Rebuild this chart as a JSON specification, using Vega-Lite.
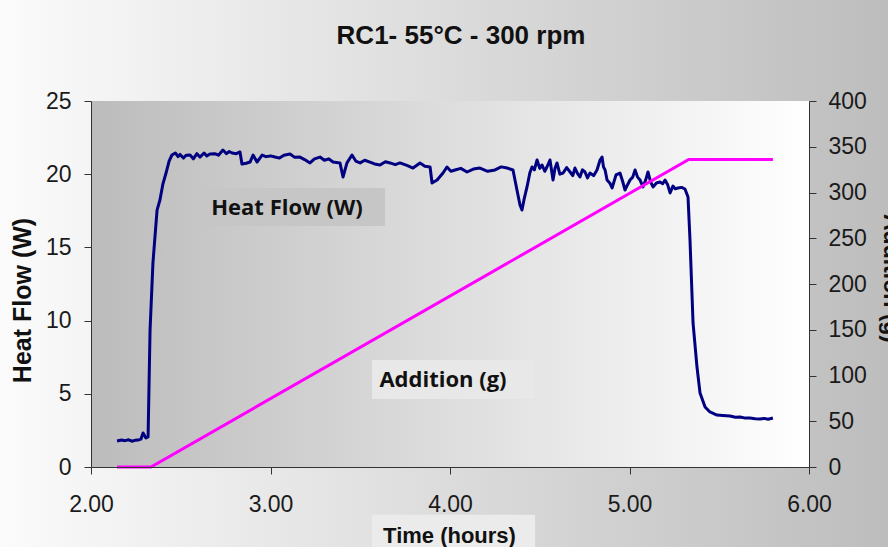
{
  "$schema": "https://vega.github.io/schema/vega-lite/v6.json",
  "width": 718,
  "height": 366,
  "autosize": {"type": "none"},
  "padding": {"left": 91, "top": 101, "right": 79, "bottom": 80},
  "background": "#dddddd",
  "title": {
    "text": "RC1- 55°C - 300 rpm",
    "font": "Liberation Sans",
    "fontSize": 26,
    "fontWeight": "bold",
    "color": "#111111",
    "anchor": "middle",
    "frame": "group",
    "baseline": "alphabetic",
    "dx": 11,
    "offset": -71
  },
  "datasets": {
    "heat": [
      {"t": 2.145, "hf": 1.78}, {"t": 2.170, "hf": 1.84}, {"t": 2.189, "hf": 1.80}, {"t": 2.210, "hf": 1.86},
      {"t": 2.228, "hf": 1.76}, {"t": 2.245, "hf": 1.82}, {"t": 2.262, "hf": 1.84}, {"t": 2.278, "hf": 1.90},
      {"t": 2.290, "hf": 2.32}, {"t": 2.306, "hf": 1.98}, {"t": 2.318, "hf": 2.05}, {"t": 2.329, "hf": 9.36},
      {"t": 2.345, "hf": 13.93}, {"t": 2.368, "hf": 17.55}, {"t": 2.384, "hf": 18.24}, {"t": 2.400, "hf": 19.3},
      {"t": 2.418, "hf": 20.08}, {"t": 2.435, "hf": 20.9}, {"t": 2.451, "hf": 21.31}, {"t": 2.470, "hf": 21.45},
      {"t": 2.485, "hf": 21.20}, {"t": 2.496, "hf": 21.35}, {"t": 2.515, "hf": 21.10}, {"t": 2.530, "hf": 21.30},
      {"t": 2.552, "hf": 21.31}, {"t": 2.570, "hf": 21.05}, {"t": 2.590, "hf": 21.40}, {"t": 2.607, "hf": 21.17},
      {"t": 2.630, "hf": 21.45}, {"t": 2.645, "hf": 21.25}, {"t": 2.663, "hf": 21.38}, {"t": 2.690, "hf": 21.40},
      {"t": 2.710, "hf": 21.30}, {"t": 2.735, "hf": 21.65}, {"t": 2.755, "hf": 21.40}, {"t": 2.770, "hf": 21.55},
      {"t": 2.786, "hf": 21.45}, {"t": 2.810, "hf": 21.40}, {"t": 2.830, "hf": 21.52}, {"t": 2.841, "hf": 20.70},
      {"t": 2.865, "hf": 20.75}, {"t": 2.886, "hf": 20.83}, {"t": 2.903, "hf": 21.31}, {"t": 2.925, "hf": 20.83},
      {"t": 2.953, "hf": 21.31}, {"t": 2.975, "hf": 21.20}, {"t": 3.000, "hf": 21.25}, {"t": 3.025, "hf": 21.17},
      {"t": 3.050, "hf": 21.10}, {"t": 3.075, "hf": 21.30}, {"t": 3.109, "hf": 21.38}, {"t": 3.135, "hf": 21.15},
      {"t": 3.164, "hf": 21.17}, {"t": 3.190, "hf": 21.00}, {"t": 3.220, "hf": 20.77}, {"t": 3.245, "hf": 21.05},
      {"t": 3.276, "hf": 21.17}, {"t": 3.300, "hf": 20.95}, {"t": 3.325, "hf": 21.05}, {"t": 3.348, "hf": 20.83},
      {"t": 3.387, "hf": 20.77}, {"t": 3.404, "hf": 19.81}, {"t": 3.426, "hf": 20.77}, {"t": 3.454, "hf": 21.31},
      {"t": 3.475, "hf": 20.90}, {"t": 3.499, "hf": 20.77}, {"t": 3.525, "hf": 20.95}, {"t": 3.554, "hf": 20.83},
      {"t": 3.580, "hf": 20.70}, {"t": 3.610, "hf": 20.63}, {"t": 3.640, "hf": 20.85}, {"t": 3.666, "hf": 20.77},
      {"t": 3.695, "hf": 20.65}, {"t": 3.721, "hf": 20.77}, {"t": 3.760, "hf": 20.60}, {"t": 3.794, "hf": 20.42},
      {"t": 3.833, "hf": 20.77}, {"t": 3.860, "hf": 20.55}, {"t": 3.889, "hf": 20.49}, {"t": 3.900, "hf": 19.40},
      {"t": 3.928, "hf": 19.60}, {"t": 3.961, "hf": 20.08}, {"t": 3.983, "hf": 20.49}, {"t": 4.005, "hf": 20.20},
      {"t": 4.028, "hf": 20.29}, {"t": 4.060, "hf": 20.40}, {"t": 4.095, "hf": 20.15}, {"t": 4.130, "hf": 20.35},
      {"t": 4.167, "hf": 20.42}, {"t": 4.210, "hf": 20.20}, {"t": 4.251, "hf": 20.29}, {"t": 4.285, "hf": 20.50},
      {"t": 4.318, "hf": 20.42}, {"t": 4.351, "hf": 20.29}, {"t": 4.373, "hf": 18.92}, {"t": 4.390, "hf": 17.90},
      {"t": 4.401, "hf": 17.55}, {"t": 4.412, "hf": 18.24}, {"t": 4.429, "hf": 19.13}, {"t": 4.445, "hf": 20.10},
      {"t": 4.457, "hf": 20.49}, {"t": 4.470, "hf": 20.30}, {"t": 4.485, "hf": 20.97}, {"t": 4.500, "hf": 20.40},
      {"t": 4.513, "hf": 20.63}, {"t": 4.528, "hf": 20.20}, {"t": 4.540, "hf": 20.49}, {"t": 4.557, "hf": 20.97},
      {"t": 4.574, "hf": 19.60}, {"t": 4.585, "hf": 20.40}, {"t": 4.596, "hf": 20.77}, {"t": 4.612, "hf": 20.00},
      {"t": 4.630, "hf": 20.08}, {"t": 4.650, "hf": 20.45}, {"t": 4.669, "hf": 20.15}, {"t": 4.684, "hf": 19.90},
      {"t": 4.696, "hf": 20.42}, {"t": 4.710, "hf": 20.05}, {"t": 4.724, "hf": 19.81}, {"t": 4.738, "hf": 20.30},
      {"t": 4.752, "hf": 20.15}, {"t": 4.766, "hf": 19.75}, {"t": 4.780, "hf": 20.08}, {"t": 4.800, "hf": 19.90},
      {"t": 4.819, "hf": 20.29}, {"t": 4.836, "hf": 20.97}, {"t": 4.847, "hf": 21.17}, {"t": 4.855, "hf": 20.50},
      {"t": 4.864, "hf": 20.29}, {"t": 4.875, "hf": 19.60}, {"t": 4.890, "hf": 19.40}, {"t": 4.903, "hf": 19.06},
      {"t": 4.925, "hf": 19.95}, {"t": 4.947, "hf": 20.08}, {"t": 4.962, "hf": 19.50}, {"t": 4.975, "hf": 18.92},
      {"t": 4.990, "hf": 19.30}, {"t": 5.003, "hf": 19.60}, {"t": 5.018, "hf": 19.80}, {"t": 5.031, "hf": 20.29},
      {"t": 5.045, "hf": 19.80}, {"t": 5.059, "hf": 19.60}, {"t": 5.075, "hf": 19.13}, {"t": 5.090, "hf": 19.60},
      {"t": 5.103, "hf": 20.15}, {"t": 5.117, "hf": 19.50}, {"t": 5.131, "hf": 19.13}, {"t": 5.150, "hf": 19.40},
      {"t": 5.170, "hf": 19.47}, {"t": 5.185, "hf": 19.35}, {"t": 5.198, "hf": 19.60}, {"t": 5.212, "hf": 19.30},
      {"t": 5.226, "hf": 18.72}, {"t": 5.242, "hf": 19.19}, {"t": 5.255, "hf": 19.00}, {"t": 5.270, "hf": 19.06},
      {"t": 5.290, "hf": 19.10}, {"t": 5.309, "hf": 18.99}, {"t": 5.326, "hf": 18.44}, {"t": 5.337, "hf": 15.51},
      {"t": 5.354, "hf": 9.84}, {"t": 5.376, "hf": 6.83}, {"t": 5.393, "hf": 5.05}, {"t": 5.421, "hf": 4.10},
      {"t": 5.448, "hf": 3.76}, {"t": 5.487, "hf": 3.55}, {"t": 5.520, "hf": 3.52}, {"t": 5.560, "hf": 3.48},
      {"t": 5.590, "hf": 3.40}, {"t": 5.616, "hf": 3.42}, {"t": 5.645, "hf": 3.34}, {"t": 5.671, "hf": 3.35},
      {"t": 5.700, "hf": 3.30}, {"t": 5.727, "hf": 3.28}, {"t": 5.750, "hf": 3.32}, {"t": 5.772, "hf": 3.26},
      {"t": 5.799, "hf": 3.35}
    ],
    "addition": [
      {"t": 2.145, "g": 0}, {"t": 2.334, "g": 0}, {"t": 5.330, "g": 336}, {"t": 5.799, "g": 336}
    ],
    "one": [{"k": 1}]
  },
  "config": {
    "view": {"stroke": null},
    "axis": {
      "labelFont": "Liberation Sans",
      "titleFont": "Liberation Sans",
      "labelFontSize": 23,
      "labelColor": "#1a1a1a",
      "titleColor": "#111111",
      "titleFontWeight": "bold",
      "domainColor": "#333333",
      "tickColor": "#333333",
      "tickSize": 7,
      "labelFlush": false,
      "labelOverlap": false,
      "grid": false
    }
  },
  "layer": [
    {
      "layer": [
        {
          "data": {"name": "one"},
          "mark": {"type": "rect", "color": {"gradient": "linear", "x1": 0, "x2": 1, "y1": 0, "y2": 0, "stops": [{"offset": 0, "color": "#fbfbfb"}, {"offset": 1, "color": "#bdbdbd"}]}},
          "encoding": {
            "x": {"datum": 1.49, "type": "quantitative", "scale": {"domain": [2, 6], "nice": false},
              "axis": {
                "zindex": 1,
                "values": [2, 3, 4, 5, 6], "format": ".2f", "labelPadding": 19,
                "title": "Time (hours)", "titleFontSize": 22,
                "titleX": 358, "titleY": 75, "titleBaseline": "alphabetic"
              }
            },
            "x2": {"datum": 6.45},
            "y": {"datum": -5.6, "type": "quantitative", "scale": {"domain": [0, 25], "nice": false},
              "axis": {
                "zindex": 1,
                "values": [0, 5, 10, 15, 20, 25], "labelPadding": 13,
                "title": "Heat Flow (W)", "titleFontSize": 25,
                "titleX": -56, "titleY": 199, "titleAngle": -90, "titleBaseline": "bottom"
              }
            },
            "y2": {"datum": 32}
          }
        },
        {
          "data": {"name": "one"},
          "mark": {"type": "rect", "color": {"gradient": "linear", "x1": 0, "x2": 1, "y1": 0, "y2": 0, "stops": [{"offset": 0, "color": "#bcbcbc"}, {"offset": 1, "color": "#ffffff"}]}},
          "encoding": {
            "x": {"datum": 2, "type": "quantitative", "scale": {"domain": [2, 6], "nice": false}},
            "x2": {"datum": 6},
            "y": {"datum": 0, "type": "quantitative", "scale": {"domain": [0, 25], "nice": false}},
            "y2": {"datum": 25}
          }
        },
        {
          "data": {"name": "one"},
          "mark": {"type": "rect", "color": "#c6c6c6"},
          "encoding": {
            "x": {"datum": 2.624, "type": "quantitative", "scale": {"domain": [2, 6], "nice": false}},
            "x2": {"datum": 3.638},
            "y": {"datum": 16.46, "type": "quantitative", "scale": {"domain": [0, 25], "nice": false}},
            "y2": {"datum": 19.06}
          }
        },
        {
          "data": {"name": "one"},
          "mark": {"type": "rect", "color": "#e8e8e8"},
          "encoding": {
            "x": {"datum": 3.565, "type": "quantitative", "scale": {"domain": [2, 6], "nice": false}},
            "x2": {"datum": 4.474},
            "y": {"datum": 4.64, "type": "quantitative", "scale": {"domain": [0, 25], "nice": false}},
            "y2": {"datum": 7.31}
          }
        },
        {
          "data": {"name": "one"},
          "mark": {"type": "rect", "color": "#ebebeb"},
          "encoding": {
            "x": {"datum": 3.565, "type": "quantitative", "scale": {"domain": [2, 6], "nice": false}},
            "x2": {"datum": 4.474},
            "y": {"datum": -5.6, "type": "quantitative", "scale": {"domain": [0, 25], "nice": false}},
            "y2": {"datum": -3.26}
          }
        },
        {
          "data": {"name": "heat"},
          "mark": {"type": "line", "color": "#000080", "strokeWidth": 3, "strokeJoin": "round"},
          "encoding": {
            "x": {"field": "t", "type": "quantitative", "scale": {"domain": [2, 6], "nice": false}},
            "y": {"field": "hf", "type": "quantitative", "scale": {"domain": [0, 25], "nice": false}}
          }
        },
        {
          "data": {"name": "one"},
          "mark": {"type": "text", "font": "Open Sans", "fontWeight": "bold", "fontSize": 22, "color": "#111111", "baseline": "alphabetic", "align": "center"},
          "encoding": {
            "x": {"datum": 3.092, "type": "quantitative", "scale": {"domain": [2, 6], "nice": false}},
            "y": {"datum": 17.2, "type": "quantitative", "scale": {"domain": [0, 25], "nice": false}},
            "text": {"value": "Heat Flow (W)"}
          }
        },
        {
          "data": {"name": "one"},
          "mark": {"type": "text", "font": "Open Sans", "fontWeight": "bold", "fontSize": 22, "color": "#111111", "baseline": "alphabetic", "align": "center"},
          "encoding": {
            "x": {"datum": 3.961, "type": "quantitative", "scale": {"domain": [2, 6], "nice": false}},
            "y": {"datum": 5.46, "type": "quantitative", "scale": {"domain": [0, 25], "nice": false}},
            "text": {"value": "Addition (g)"}
          }
        }
      ]
    },
    {
      "data": {"name": "addition"},
      "mark": {"type": "line", "color": "#ff00ff", "strokeWidth": 3},
      "encoding": {
        "x": {"field": "t", "type": "quantitative", "scale": {"domain": [2, 6], "nice": false}},
        "y": {
          "field": "g", "type": "quantitative",
          "scale": {"domain": [0, 400], "nice": false},
          "axis": {
            "zindex": 1,
            "orient": "right",
            "values": [0, 50, 100, 150, 200, 250, 300, 350, 400], "labelPadding": 12,
            "title": "Addition (g)", "titleFontSize": 23,
            "titleX": 74, "titleY": 177, "titleAngle": 90, "titleBaseline": "alphabetic"
          }
        }
      }
    }
  ],
  "resolve": {"scale": {"y": "independent"}}
}
